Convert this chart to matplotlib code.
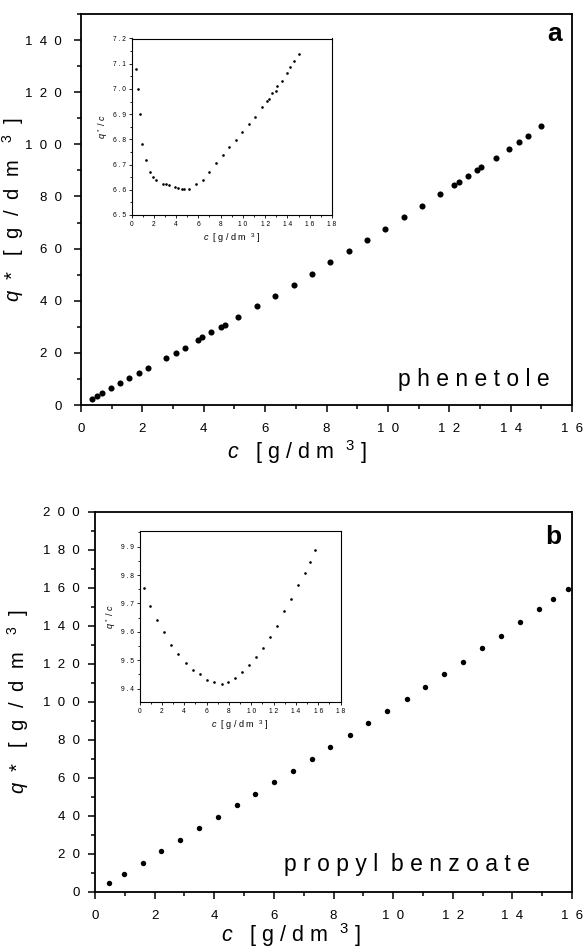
import matplotlib
matplotlib.use('Agg')
import matplotlib.pyplot as plt
from matplotlib.ticker import MultipleLocator, FuncFormatter

plt.rcParams.update({'font.family': 'Liberation Sans',
                     'mathtext.fontset': 'custom',
                     'mathtext.rm': 'Liberation Sans',
                     'mathtext.it': 'Liberation Sans:italic',
                     'mathtext.bf': 'Liberation Sans:bold'})

# (a) phenetole, main isotherm
c_a = [0.35, 0.52, 0.68, 0.98, 1.28, 1.58, 1.88, 2.17, 2.78, 3.08, 3.38, 3.80, 3.95,
       4.25, 4.55, 4.70, 5.13, 5.73, 6.33, 6.93, 7.53, 8.12, 8.72, 9.32, 9.91, 10.52,
       11.12, 11.71, 12.16, 12.31, 12.61, 12.90, 13.05, 13.51, 13.96, 14.27, 14.56, 15.00]
q_a = [2.4, 3.5, 4.5, 6.4, 8.4, 10.3, 12.3, 14.3, 18.1, 20.1, 22.0, 24.9, 25.9,
       27.9, 29.9, 30.5, 33.8, 37.9, 42.0, 46.2, 50.4, 54.8, 59.0, 63.3, 67.7, 72.1,
       76.5, 81.0, 84.5, 85.6, 87.9, 90.1, 91.4, 94.8, 98.4, 100.8, 103.3, 107.0]

# (a) inset, q*/c
ic_a = [0.36, 0.54, 0.72, 0.98, 1.28, 1.64, 1.91, 2.20, 2.80, 3.10, 3.40, 3.93, 4.20,
        4.53, 4.68, 5.18, 5.81, 6.38, 7.00, 7.57, 8.19, 8.76, 9.36, 9.95, 10.52, 11.11,
        11.71, 12.19, 12.37, 12.63, 12.93, 13.08, 13.50, 13.97, 14.27, 14.57, 15.02]
ir_a = [7.08, 7.00, 6.90, 6.78, 6.72, 6.67, 6.651, 6.639, 6.624, 6.621, 6.620, 6.611, 6.608,
        6.605, 6.605, 6.604, 6.621, 6.639, 6.670, 6.708, 6.738, 6.768, 6.799, 6.828, 6.859, 6.887,
        6.928, 6.953, 6.962, 6.982, 6.993, 7.012, 7.033, 7.063, 7.087, 7.109, 7.139]

# (b) propyl benzoate, main isotherm
c_b = [0.47, 0.97, 1.60, 2.23, 2.85, 3.50, 4.13, 4.75, 5.37, 5.99, 6.63, 7.27, 7.89,
       8.54, 9.17, 9.80, 10.45, 11.08, 11.71, 12.34, 12.98, 13.61, 14.26, 14.89, 15.36, 15.85]
q_b = [4.6, 9.3, 15.4, 21.6, 27.5, 33.5, 39.6, 45.6, 51.7, 57.7, 63.8, 69.9, 76.1,
       82.4, 88.7, 95.4, 101.7, 107.8, 114.5, 120.9, 128.0, 134.8, 141.8, 148.5, 154.1, 159.5]

# (b) inset, q*/c
ic_b = [0.36, 0.90, 1.53, 2.15, 2.81, 3.47, 4.13, 4.78, 5.41, 6.07, 6.70, 7.36, 7.95,
        8.58, 9.21, 9.84, 10.47, 11.09, 11.72, 12.32, 12.95, 13.55, 14.20, 14.83, 15.31, 15.76]
ir_b = [9.756, 9.690, 9.641, 9.600, 9.553, 9.521, 9.491, 9.466, 9.450, 9.431, 9.422, 9.415, 9.422,
        9.436, 9.458, 9.482, 9.512, 9.542, 9.582, 9.622, 9.674, 9.715, 9.766, 9.806, 9.847, 9.888]

W, H = 583, 949
fig = plt.figure(figsize=(W / 100, H / 100), dpi=100)

def px_axes(l, t, r, b):
    return fig.add_axes([l / W, 1 - b / H, (r - l) / W, (b - t) / H])

def spaced(sep, fmt='{:g}'):
    return FuncFormatter(lambda v, pos: sep.join(fmt.format(v)))

ylab = r'$q$  *   [  g  /  d  m   $^{3}$  ]'
xlab = r'$c$   [ g / d m  $^{3}$ ]'
ilab_x = r'$c$  [ g / d m  $^{3}$ ]'
ilab_y = r'$q^{\,*}$ / $c$'

def style_main(ax, ymax, ymaj, ypad):
    ax.set_xlim(0, 16)
    ax.set_ylim(0, ymax)
    ax.xaxis.set_major_locator(MultipleLocator(2))
    ax.xaxis.set_minor_locator(MultipleLocator(1))
    ax.yaxis.set_major_locator(MultipleLocator(ymaj))
    ax.yaxis.set_minor_locator(MultipleLocator(ymaj / 2))
    ax.xaxis.set_major_formatter(spaced('  '))
    ax.yaxis.set_major_formatter(spaced('  '))
    ax.tick_params(which='both', direction='out', width=1.1, labelsize=9.5)
    ax.tick_params(which='major', length=5)
    ax.tick_params(which='minor', length=3)
    ax.tick_params(axis='x', pad=8)
    ax.tick_params(axis='y', pad=ypad)
    for s in ax.spines.values():
        s.set_linewidth(1.3)

def style_inset(ax, ylo, yhi):
    ax.set_xlim(0, 18)
    ax.set_ylim(ylo, yhi)
    ax.xaxis.set_major_locator(MultipleLocator(2))
    ax.xaxis.set_minor_locator(MultipleLocator(1))
    ax.yaxis.set_major_locator(MultipleLocator(0.1))
    ax.yaxis.set_minor_locator(MultipleLocator(0.05))
    ax.xaxis.set_major_formatter(spaced(' '))
    ax.yaxis.set_major_formatter(spaced(' ', '{:.1f}'))
    ax.tick_params(which='both', direction='out', width=0.6, labelsize=4.8, pad=1.5)
    ax.tick_params(which='major', length=2.5)
    ax.tick_params(which='minor', length=1.5)
    for s in ax.spines.values():
        s.set_linewidth(0.8)
    ax.set_xlabel(ilab_x, fontsize=6.5, labelpad=3)
    ax.set_ylabel(ilab_y, fontsize=6.5, labelpad=2)

# ---- panel a
ax = px_axes(81, 14, 572, 405)
ax.plot(c_a, q_a, 'o', color='k', ms=4.4, mec='none')
style_main(ax, 150, 20, 9)
ax.set_xlabel(xlab, fontsize=15.5, labelpad=4)
ax.xaxis.set_label_coords(0.44, -0.085)
ax.set_ylabel(ylab, fontsize=14.5)
ax.yaxis.set_label_coords(-0.113, 0.5)
ax.text(0.98, 0.95, 'a', transform=ax.transAxes, ha='right', va='center',
        fontsize=19, fontweight='bold')
ax.text(0.955, 0.066, 'p h e n e t o l e', transform=ax.transAxes, ha='right',
        va='center', fontsize=16.5)

axi = px_axes(131.5, 38.5, 332, 215)
axi.plot(ic_a, ir_a, 'o', color='k', ms=1.9, mec='none')
style_inset(axi, 6.5, 7.2)

# ---- panel b
ax = px_axes(95, 511.5, 572, 892)
ax.plot(c_b, q_b, 'o', color='k', ms=3.9, mec='none')
style_main(ax, 200, 20, 6)
ax.set_xlabel(xlab, fontsize=15.5, labelpad=4)
ax.xaxis.set_label_coords(0.41, -0.076)
ax.set_ylabel(ylab, fontsize=14.5)
ax.yaxis.set_label_coords(-0.135, 0.5)
ax.text(0.977, 0.932, 'b', transform=ax.transAxes, ha='right', va='center',
        fontsize=19, fontweight='bold')
ax.text(0.912, 0.071, 'p r o p y l  b e n z o a t e', transform=ax.transAxes, ha='right',
        va='center', fontsize=16.5)

axi = px_axes(139.5, 531, 340.5, 702)
axi.plot(ic_b, ir_b, 'o', color='k', ms=1.9, mec='none')
style_inset(axi, 9.353, 9.955)

fig.savefig('out.png', dpi=100)
